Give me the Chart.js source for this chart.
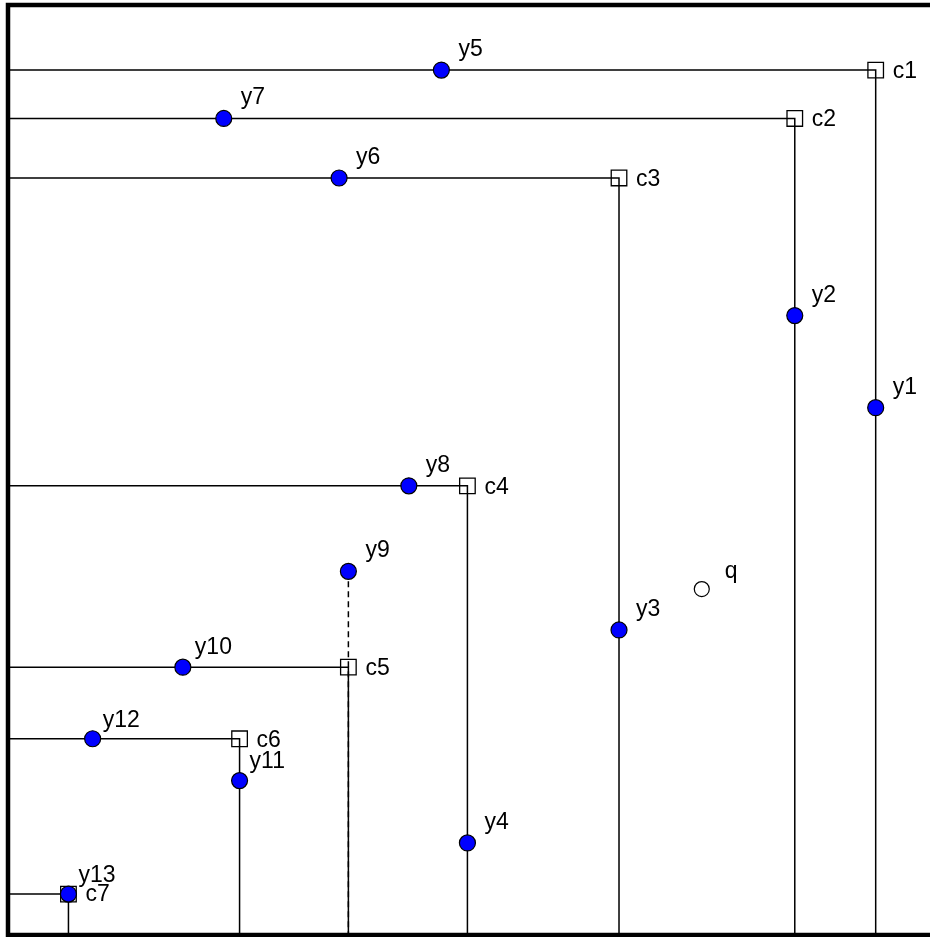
<!DOCTYPE html>
<html>
<head>
<meta charset="utf-8">
<script src="https://cdn.jsdelivr.net/npm/chart.js@4"></script>
<style>
  html, body { margin: 0; padding: 0; background: #fff; overflow: hidden; width: 930px; height: 937px; }
  #c { position: absolute; left: 0; top: 0; }
</style>
</head>
<body>
<canvas id="c" width="945" height="937"></canvas>
<script>
// Corner points c1..c7: each has a horizontal line from the left edge and a vertical line down to the bottom
const cornerNames = ['c1', 'c2', 'c3', 'c4', 'c5', 'c6', 'c7'];
const cornerX = [93.3, 84.6, 65.7, 49.4, 36.6, 24.9, 6.5];
const cornerY = [93.0, 87.8, 81.4, 48.3, 28.8, 21.1, 4.4];

// Observed points y1..y13
const pointNames = ['y1', 'y2', 'y3', 'y4', 'y5', 'y6', 'y7', 'y8', 'y9', 'y10', 'y11', 'y12', 'y13'];
const pointX = [93.3, 84.6, 65.7, 49.4, 46.6, 35.6, 23.2, 43.1, 36.6, 18.8, 24.9, 9.1, 6.5];
const pointY = [56.7, 66.6, 32.8, 9.9, 93.0, 81.4, 87.8, 48.3, 39.1, 28.8, 16.6, 21.1, 4.4];

// Query point
const queryNames = ['q'];
const queryX = [74.6];
const queryY = [37.2];

// Dashed link: from y9 down along the c5 vertical
const dashedFrom = 'y9';
const dashedTo = 'c5';

const FONT = '23px "Liberation Sans", Arial, sans-serif';

// Label placement relative to the marker (pixels)
const labelShift = {
  y: [17, -14],
  c: [17, 8],
  q: [23, -11],
  y10: [12, -13],
  y11: [10, -13],
  y12: [10, -12],
  y13: [10, -12],
  c7: [17, 7]
};

const datasets = [];

// Staircase lines for each corner
cornerNames.forEach((n, i) => {
  datasets.push({
    label: n + ' lines',
    data: [{ x: 0, y: cornerY[i] }, { x: cornerX[i], y: cornerY[i] }, { x: cornerX[i], y: 0 }],
    showLine: true,
    borderColor: '#000',
    borderWidth: 1.5,
    pointRadius: 0,
    fill: false,
    order: 5
  });
});

// Dashed segment from y9 to the bottom through c5
const di = pointNames.indexOf(dashedFrom);
const ci = cornerNames.indexOf(dashedTo);
datasets.push({
  label: 'dashed',
  data: [{ x: cornerX[ci], y: pointY[di] }, { x: cornerX[ci], y: 0 }],
  showLine: true,
  borderColor: '#000',
  borderWidth: 1.5,
  borderDash: [6, 4],
  pointRadius: 0,
  fill: false,
  order: 4
});

datasets.push({
  label: 'corners',
  data: cornerX.map((x, i) => ({ x, y: cornerY[i] })),
  showLine: false,
  pointStyle: 'rect',
  pointRadius: 11,
  backgroundColor: 'rgba(0,0,0,0)',
  borderColor: '#000',
  borderWidth: 1.3,
  order: 3
});

datasets.push({
  label: 'query',
  data: queryX.map((x, i) => ({ x, y: queryY[i] })),
  showLine: false,
  pointStyle: 'circle',
  pointRadius: 7.5,
  backgroundColor: '#fff',
  borderColor: '#000',
  borderWidth: 1.2,
  order: 2
});

datasets.push({
  label: 'points',
  data: pointX.map((x, i) => ({ x, y: pointY[i] })),
  showLine: false,
  pointStyle: 'circle',
  pointRadius: 8,
  backgroundColor: '#0000ff',
  borderColor: '#000',
  borderWidth: 1.2,
  order: 1
});

// Thick frame around the plotting region
const framePlugin = {
  id: 'frame',
  afterDatasetsDraw(chart) {
    const { ctx, chartArea: a } = chart;
    ctx.save();
    ctx.strokeStyle = '#000';
    ctx.lineWidth = 4.5;
    ctx.strokeRect(a.left, a.top, a.right - a.left, a.bottom - a.top);
    ctx.restore();
  }
};

// Text labels beside each marker
const labelPlugin = {
  id: 'markerLabels',
  afterDatasetsDraw(chart) {
    const { ctx, scales } = chart;
    ctx.save();
    ctx.font = FONT;
    ctx.fillStyle = '#000';
    ctx.textAlign = 'left';
    ctx.textBaseline = 'alphabetic';
    const put = (name, x, y, kind) => {
      const s = labelShift[name] || labelShift[kind];
      ctx.fillText(name, scales.x.getPixelForValue(x) + s[0], scales.y.getPixelForValue(y) + s[1]);
    };
    cornerNames.forEach((n, i) => put(n, cornerX[i], cornerY[i], 'c'));
    pointNames.forEach((n, i) => put(n, pointX[i], pointY[i], 'y'));
    queryNames.forEach((n, i) => put(n, queryX[i], queryY[i], 'q'));
    ctx.restore();
  }
};

new Chart(document.getElementById('c'), {
  type: 'scatter',
  data: { datasets },
  options: {
    responsive: false,
    animation: false,
    events: [],
    layout: { autoPadding: false, padding: { left: 8, top: 5, right: 7, bottom: 2 } },
    plugins: { legend: { display: false }, tooltip: { enabled: false } },
    scales: {
      x: { type: 'linear', min: 0, max: 100, display: false },
      y: { type: 'linear', min: 0, max: 100, display: false }
    }
  },
  plugins: [framePlugin, labelPlugin]
});
</script>
</body>
</html>
